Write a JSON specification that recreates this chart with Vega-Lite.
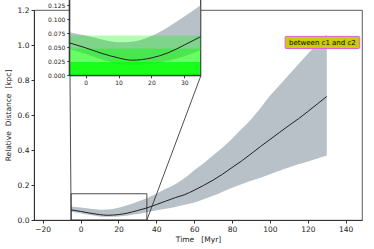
{
  "$schema": "https://vega.github.io/schema/vega-lite/v6.json",
  "width": 328,
  "height": 210,
  "autosize": {"type": "none"},
  "padding": {"left": 34, "top": 10, "right": 12, "bottom": 29},
  "config": {
    "view": {"stroke": "#333", "strokeWidth": 0.8},
    "font": "DejaVu Sans",
    "axis": {"labelFont": "DejaVu Sans", "titleFont": "DejaVu Sans", "labelFontSize": 7.5, "titleFontSize": 7.5, "titleFontWeight": "normal", "labelColor": "#222", "titleColor": "#222", "domainColor": "#333", "tickColor": "#333", "grid": false, "tickSize": 3, "labelPadding": 2, "labelOverlap": false, "labelFlush": false}
  },
  "datasets": {
    "curve": [
      {"t": -5, "d": 0.058, "lo": 0.047, "hi": 0.077},
      {"t": 0, "d": 0.049, "lo": 0.038, "hi": 0.071},
      {"t": 5, "d": 0.039, "lo": 0.028, "hi": 0.064},
      {"t": 10, "d": 0.031, "lo": 0.020, "hi": 0.059},
      {"t": 14, "d": 0.027, "lo": 0.018, "hi": 0.060},
      {"t": 20, "d": 0.031, "lo": 0.020, "hi": 0.070},
      {"t": 25, "d": 0.040, "lo": 0.026, "hi": 0.086},
      {"t": 30, "d": 0.054, "lo": 0.034, "hi": 0.105},
      {"t": 35, "d": 0.069, "lo": 0.045, "hi": 0.125},
      {"t": 40, "d": 0.088, "lo": 0.055, "hi": 0.150},
      {"t": 45, "d": 0.108, "lo": 0.065, "hi": 0.178},
      {"t": 50, "d": 0.128, "lo": 0.075, "hi": 0.205},
      {"t": 55, "d": 0.145, "lo": 0.087, "hi": 0.240},
      {"t": 60, "d": 0.170, "lo": 0.100, "hi": 0.285},
      {"t": 65, "d": 0.198, "lo": 0.118, "hi": 0.325},
      {"t": 70, "d": 0.228, "lo": 0.138, "hi": 0.370},
      {"t": 75, "d": 0.262, "lo": 0.162, "hi": 0.415},
      {"t": 80, "d": 0.300, "lo": 0.185, "hi": 0.465},
      {"t": 85, "d": 0.337, "lo": 0.205, "hi": 0.520},
      {"t": 90, "d": 0.378, "lo": 0.225, "hi": 0.575},
      {"t": 95, "d": 0.420, "lo": 0.242, "hi": 0.640},
      {"t": 100, "d": 0.460, "lo": 0.262, "hi": 0.710},
      {"t": 105, "d": 0.500, "lo": 0.282, "hi": 0.770},
      {"t": 110, "d": 0.540, "lo": 0.300, "hi": 0.830},
      {"t": 115, "d": 0.578, "lo": 0.318, "hi": 0.890},
      {"t": 120, "d": 0.620, "lo": 0.335, "hi": 0.950},
      {"t": 125, "d": 0.663, "lo": 0.352, "hi": 1.005},
      {"t": 130, "d": 0.706, "lo": 0.369, "hi": 1.060}
    ],
    "bands": [
      {"level": "3σ", "lo": 0.048, "hi": 0.071},
      {"level": "2σ", "lo": 0.024, "hi": 0.048},
      {"level": "1σ", "lo": 0, "hi": 0.024}
    ],
    "box": [{"t0": -5, "t1": 35, "d0": 0, "d1": 0.15}],
    "links": [
      {"t0": -5, "d0": 0, "t1": -5.6, "d1": 0.824},
      {"t0": 35, "d0": 0, "t1": 63.5, "d1": 0.824}
    ],
    "label": [{"text": "between c1 and c2", "t0": 108, "t1": 147.4, "d0": 0.98, "d1": 1.049, "t": 127.7, "d": 1.014}]
  },
  "layer": [
    {
      "layer": [
        {
          "data": {"name": "curve"},
          "mark": {"type": "area", "color": "#b8c0c8", "interpolate": "monotone"},
          "encoding": {
            "x": {"field": "t", "type": "quantitative", "scale": {"domain": [-24.6, 148.6], "nice": false, "zero": false}, "axis": {"orient": "bottom", "values": [-20, 0, 20, 40, 60, 80, 100, 120, 140], "title": "Time\u00a0\u00a0\u00a0[Myr]", "titlePadding": 3}},
            "y": {"field": "hi", "type": "quantitative", "scale": {"domain": [0, 1.2], "nice": false}, "axis": {"orient": "left", "values": [0, 0.2, 0.4, 0.6, 0.8, 1.0, 1.2], "tickCount": 7, "labelOverlap": false, "format": ".1f", "title": "Relative\u00a0\u00a0Distance\u00a0\u00a0[kpc]", "titlePadding": 5}},
            "y2": {"field": "lo"}
          }
        },
        {
          "data": {"name": "curve"},
          "mark": {"type": "line", "color": "#222", "strokeWidth": 1, "interpolate": "monotone"},
          "encoding": {
            "x": {"field": "t", "type": "quantitative"},
            "y": {"field": "d", "type": "quantitative"}
          }
        },
        {
          "data": {"name": "box"},
          "mark": {"type": "rect", "fill": null, "stroke": "#222", "strokeWidth": 0.8},
          "encoding": {
            "x": {"field": "t0", "type": "quantitative"},
            "x2": {"field": "t1"},
            "y": {"field": "d0", "type": "quantitative"},
            "y2": {"field": "d1"}
          }
        },
        {
          "data": {"name": "links"},
          "mark": {"type": "rule", "color": "#222", "strokeWidth": 0.8},
          "encoding": {
            "x": {"field": "t0", "type": "quantitative"},
            "x2": {"field": "t1"},
            "y": {"field": "d0", "type": "quantitative"},
            "y2": {"field": "d1"}
          }
        },
        {
          "data": {"name": "label"},
          "mark": {"type": "rect", "fill": "#cccc00", "stroke": "#e060e0", "strokeWidth": 1, "cornerRadius": 1},
          "encoding": {
            "x": {"field": "t0", "type": "quantitative"},
            "x2": {"field": "t1"},
            "y": {"field": "d0", "type": "quantitative"},
            "y2": {"field": "d1"}
          }
        },
        {
          "data": {"name": "label"},
          "mark": {"type": "text", "font": "DejaVu Sans", "fontSize": 7, "color": "#000", "align": "center", "baseline": "middle"},
          "encoding": {
            "x": {"field": "t", "type": "quantitative"},
            "y": {"field": "d", "type": "quantitative"},
            "text": {"field": "text"}
          }
        }
      ]
    },
    {
      "layer": [
        {
          "data": {"name": "box"},
          "mark": {"type": "rect", "fill": "white", "stroke": "#333", "strokeWidth": 0.8},
          "encoding": {
            "x": {"field": "t0", "type": "quantitative", "scale": {"domain": [-5, 35], "range": [35.3, 166.7], "nice": false, "zero": false}, "axis": {"orient": "bottom", "offset": -144.7, "values": [0, 10, 20, 30], "title": null, "labelFontSize": 6, "tickSize": 2.5, "zindex": 1}},
            "x2": {"field": "t1"},
            "y": {"field": "d0", "type": "quantitative", "scale": {"domain": [0, 0.15], "range": [65.3, -18.7], "nice": false}, "axis": {"orient": "left", "offset": -35.3, "values": [0, 0.025, 0.05, 0.075, 0.1, 0.125], "format": ".3f", "title": null, "labelFontSize": 6, "tickSize": 2.5, "zindex": 1}},
            "y2": {"field": "d1"}
          }
        },
        {
          "data": {"name": "curve"},
          "transform": [{"filter": "datum.t <= 35"}],
          "mark": {"type": "area", "color": "#b8c0c8", "interpolate": "monotone"},
          "encoding": {
            "x": {"field": "t", "type": "quantitative"},
            "y": {"field": "hi", "type": "quantitative"},
            "y2": {"field": "lo"}
          }
        },
        {
          "data": {"name": "bands"},
          "mark": {"type": "rect"},
          "encoding": {
            "x": {"datum": -5, "type": "quantitative"},
            "x2": {"datum": 35},
            "y": {"field": "lo", "type": "quantitative"},
            "y2": {"field": "hi"},
            "color": {"field": "level", "type": "nominal", "scale": {"domain": ["1σ", "2σ", "3σ"], "range": ["rgba(0,255,0,0.9)", "rgba(0,255,0,0.6)", "rgba(0,255,0,0.3)"]}, "legend": null}
          }
        },
        {
          "data": {"name": "curve"},
          "transform": [{"filter": "datum.t <= 35"}],
          "mark": {"type": "line", "color": "#222", "strokeWidth": 1, "interpolate": "monotone"},
          "encoding": {
            "x": {"field": "t", "type": "quantitative"},
            "y": {"field": "d", "type": "quantitative"}
          }
        },
        {
          "data": {"name": "box"},
          "mark": {"type": "rect", "fill": null, "stroke": "#333", "strokeWidth": 0.8},
          "encoding": {
            "x": {"field": "t0", "type": "quantitative"},
            "x2": {"field": "t1"},
            "y": {"field": "d0", "type": "quantitative"},
            "y2": {"field": "d1"}
          }
        }
      ]
    }
  ],
  "resolve": {"scale": {"x": "independent", "y": "independent", "color": "independent"}, "axis": {"x": "independent", "y": "independent"}}
}
